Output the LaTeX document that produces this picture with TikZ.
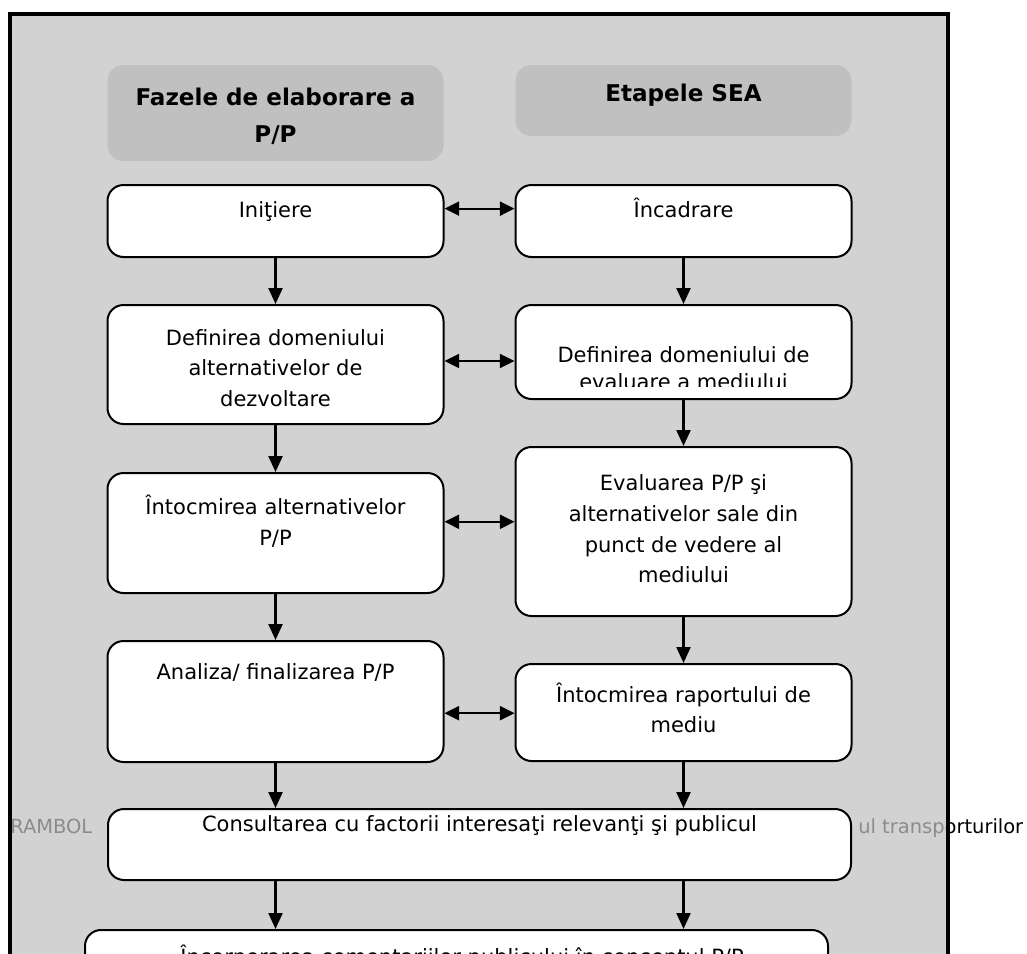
\documentclass[tikz,border=0pt]{standalone}
\usepackage{fontspec}
\setmainfont{DejaVu Sans}
\usetikzlibrary{arrows.meta,calc}
\definecolor{panelc}{HTML}{C2C2C2}
\definecolor{hdrc}{HTML}{C0C0C0}
\begin{document}
\begin{tikzpicture}[x=0.75pt,y=-0.75pt,
  sz/.style 2 args={minimum width=#1*0.75pt, minimum height=#2*0.75pt},
  box/.style={draw=black, line width=1.5pt, fill=white, rounded corners=12pt, inner sep=0pt},
  hdr/.style={fill=hdrc, rounded corners=12pt, inner sep=0pt},
  txt/.style={align=center, inner sep=0pt, font=\fontsize{15.75}{23}\selectfont},
  htxt/.style={align=center, inner sep=0pt, font=\fontsize{17.3}{27.75}\selectfont\bfseries},
  bgtxt/.style={anchor=base west, inner sep=0pt, font=\fontsize{14.6}{17}\selectfont},
  arr/.style={line width=1.7pt, -{Triangle[length=12pt,width=10.5pt]}},
  dbl/.style={line width=1.7pt, {Triangle[length=11pt,width=10.5pt]}-{Triangle[length=11pt,width=10.5pt]}},
]
\useasboundingbox (0,0) rectangle (1027,953);
\clip (0,0) rectangle (1027,953);
\fill[white] (0,0) rectangle (1027,953);
% text lying under the panel
\node[bgtxt] (ramb) at (10,833) {RAMBOL};
\node[bgtxt] (transp) at (858,833) {ul transporturilor};
% panel
\path[fill=panelc, fill opacity=0.72] (10,14) rectangle (948,1100);
\draw[line width=3pt] (10,14) rectangle (948,1100);
% headers
\node[hdr, sz={336}{96}] (hdrL) at (275.5,113) {};
\node[hdr, sz={336}{71}] (hdrR) at (683.5,100.5) {};
\node[htxt] (thdrL) at (275.5,116) {Fazele de elaborare a\\P/P};
\node[htxt, anchor=base] (thdrR) at (683.5,101) {Etapele SEA};
% boxes
\node[box, sz={336}{72}]  (init) at (275.5,221) {};
\node[box, sz={336}{72}]  (inc)  at (683.5,221) {};
\node[box, sz={336}{119}] (defL) at (275.5,364.5) {};
\node[box, sz={336}{94}]  (defR) at (683.5,352) {};
\node[box, sz={336}{120}] (intL) at (275.5,533) {};
\node[box, sz={336}{169}] (eval) at (683.5,531.5) {};
\node[box, sz={336}{121}] (anal) at (275.5,701.5) {};
\node[box, sz={336}{97}]  (rap)  at (683.5,712.5) {};
\node[box, sz={743}{71}]  (cons) at (479.5,844.5) {};
\node[box, sz={743}{80}]  (bot)  at (456.5,970) {};
% texts
\node[txt, anchor=base] (tinit) at (275.5,217) {Iniţiere};
\node[txt, anchor=base] (tinc) at (683.5,217) {Încadrare};
\node[txt] (tdefL) at (275.5,368) {Definirea domeniului\\alternativelor de\\dezvoltare};
\begin{scope}
  \clip (515,305) rectangle (852,386.5);
  \node[txt, font=\fontsize{15.75}{20}\selectfont] (tdefR) at (683.5,368) {Definirea domeniului de\\evaluare a mediului};
\end{scope}
\node[txt] (tintL) at (275.5,521) {Întocmirea alternativelor\\P/P};
\node[txt] (teval) at (683.5,529) {Evaluarea P/P şi\\alternativelor sale din\\punct de vedere al\\mediului};
\node[txt, anchor=base] (tanal) at (275.5,679) {Analiza/ finalizarea P/P};
\node[txt] (trap) at (683.5,708) {Întocmirea raportului de\\mediu};
\node[txt, anchor=base] (tcons) at (479.5,831) {Consultarea cu factorii interesaţi relevanţi şi publicul};
\node[txt, anchor=base] (tbot) at (462,964) {Încorporarea comentariilor publicului în conceptul P/P};
% vertical connectors
\draw[arr] (init.south) -- (defL.north);
\draw[arr] (inc.south) -- (defR.north);
\draw[arr] (defL.south) -- (intL.north);
\draw[arr] (defR.south) -- (eval.north);
\draw[arr] (intL.south) -- (anal.north);
\draw[arr] (eval.south) -- (rap.north);
\draw[arr] (anal.south) -- (cons.north -| anal.south);
\draw[arr] (rap.south) -- (cons.north -| rap.south);
\draw[arr] (cons.south -| anal.south) -- (bot.north -| anal.south);
\draw[arr] (cons.south -| rap.south) -- (bot.north -| rap.south);
% horizontal double connectors
\coordinate (d1) at ($(init.north east)!0.333!(init.south east)$);
\coordinate (d2) at ($(defL.north east)!0.471!(defL.south east)$);
\coordinate (d3) at ($(intL.north east)!0.408!(intL.south east)$);
\coordinate (d4) at ($(anal.north east)!0.595!(anal.south east)$);
\draw[dbl] (d1) -- (d1 -| inc.west);
\draw[dbl] (d2) -- (d2 -| defR.west);
\draw[dbl] (d3) -- (d3 -| eval.west);
\draw[dbl] (d4) -- (d4 -| rap.west);
\end{tikzpicture}
\end{document}
